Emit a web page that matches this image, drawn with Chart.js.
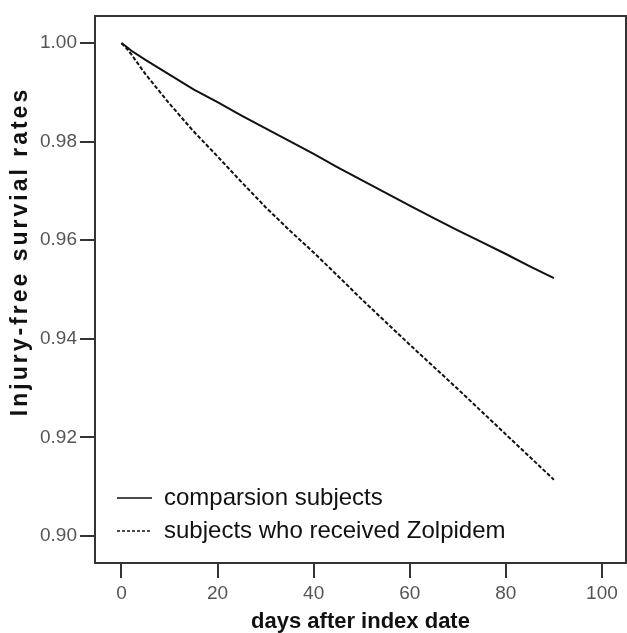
<!DOCTYPE html>
<html>
<head>
<meta charset="utf-8">
<script src="https://cdn.jsdelivr.net/npm/chart.js@4"></script>
<style>
html,body{margin:0;padding:0;background:#fff;}
#wrap{width:627px;height:633px;}
</style>
</head>
<body>
<div id="wrap"><canvas id="c" width="627" height="633"></canvas></div>
<script>
// ---- data ----
const days = [0, 1, 2, 5, 10, 15, 20, 25, 30, 35, 40, 45, 50, 55, 60, 65, 70, 75, 80, 85, 90];
const comparisonRates = [1.000, 0.9993, 0.9985, 0.9966, 0.9936, 0.9906, 0.9880, 0.9853, 0.9827, 0.9801, 0.9775, 0.9748, 0.9722, 0.9696, 0.9670, 0.9645, 0.9620, 0.9596, 0.9572, 0.9547, 0.9523];
const zolpidemRates = [1.000, 0.9990, 0.9978, 0.9937, 0.9877, 0.9821, 0.9770, 0.9718, 0.9667, 0.9620, 0.9575, 0.9528, 0.9480, 0.9434, 0.9388, 0.9343, 0.9298, 0.9252, 0.9206, 0.9160, 0.9114];
const seriesLabels = ['comparsion subjects', 'subjects who received Zolpidem'];
const xTicks = [0, 20, 40, 60, 80, 100];
const yTicks = [0.90, 0.92, 0.94, 0.96, 0.98, 1.00];
const xTitle = 'days after index date';
const yTitle = 'Injury-free survial rates';

const toPoints = (xs, ys) => xs.map((x, i) => ({x: x, y: ys[i]}));

const frame = {
  id: 'frame',
  afterDraw(chart) {
    const a = chart.chartArea, ctx = chart.ctx;
    ctx.save();
    ctx.strokeStyle = '#333';
    ctx.lineWidth = 2;
    ctx.strokeRect(a.left, a.top, a.right - a.left, a.bottom - a.top);
    ctx.restore();
  }
};

const adjust = {
  id: 'adjust',
  afterLayout(chart) {
    const s = chart.scales.y;
    if (!s.__patched) {
      const orig = s.drawTitle;
      s.drawTitle = function () {
        const c = this.ctx;
        c.save();
        c.translate(0, -38);
        c.letterSpacing = '3px';
        orig.apply(this, arguments);
        c.restore();
      };
      s.__patched = true;
    }
    const lg = chart.legend;
    if (lg) {
      const h = lg.height;
      lg.left = 108;
      lg.bottom = 552;
      lg.top = 552 - h;
    }
  }
};

new Chart(document.getElementById('c'), {
  type: 'line',
  data: {
    datasets: [
      {
        label: seriesLabels[0],
        data: toPoints(days, comparisonRates),
        borderColor: '#111',
        backgroundColor: '#111',
        borderWidth: 2,
        pointRadius: 0,
        tension: 0
      },
      {
        label: seriesLabels[1],
        data: toPoints(days, zolpidemRates),
        borderColor: '#111',
        backgroundColor: '#111',
        borderWidth: 2,
        borderDash: [4, 2],
        pointRadius: 0,
        tension: 0
      }
    ]
  },
  options: {
    responsive: false,
    animation: false,
    devicePixelRatio: 1,
    layout: {padding: {top: 16, right: 1, left: 0, bottom: 0}},
    plugins: {
      tooltip: {enabled: false},
      legend: {
        position: 'chartArea',
        align: 'end',
        labels: {
          usePointStyle: true,
          pointStyle: 'line',
          pointStyleWidth: 35,
          boxHeight: 2,
          padding: 9,
          color: '#111',
          font: {family: '"Liberation Sans", Arial, sans-serif', size: 24},
          generateLabels: (chart) => {
            const items = Chart.defaults.plugins.legend.labels.generateLabels(chart);
            items.forEach((it) => {
              const ds = chart.data.datasets[it.datasetIndex];
              it.lineDash = ds.borderDash ? [3, 2] : [];
              it.lineWidth = 1.5;
              it.strokeStyle = '#111';
            });
            return items;
          }
        }
      }
    },
    scales: {
      x: {
        type: 'linear',
        min: -5.5,
        max: 105,
        afterBuildTicks: (s) => { s.ticks = xTicks.map(v => ({value: v})); },
        afterFit: (s) => { s.height = 70; },
        grid: {drawOnChartArea: false, drawTicks: true, tickLength: 15, color: '#333', lineWidth: 2},
        border: {display: true, color: '#333', width: 2},
        ticks: {
          color: '#555',
          padding: 4,
          maxRotation: 0,
          font: {family: '"Liberation Sans", Arial, sans-serif', size: 19}
        },
        title: {
          display: true,
          text: xTitle,
          color: '#111',
          padding: {top: 0, bottom: 0},
          font: {family: '"Liberation Sans", Arial, sans-serif', size: 22, weight: 'bold', lineHeight: 1}
        }
      },
      y: {
        type: 'linear',
        min: 0.8945,
        max: 1.0055,
        afterBuildTicks: (s) => { s.ticks = yTicks.map(v => ({value: v})); },
        afterFit: (s) => { s.width = 95; },
        grid: {drawOnChartArea: false, drawTicks: true, tickLength: 15, color: '#333', lineWidth: 2},
        border: {display: true, color: '#333', width: 2},
        ticks: {
          color: '#555',
          padding: 3,
          callback: (v) => Number(v).toFixed(2),
          font: {family: '"Liberation Sans", Arial, sans-serif', size: 19}
        },
        title: {
          display: true,
          text: yTitle,
          color: '#111',
          padding: {top: 9, bottom: 0},
          font: {family: '"Liberation Sans", Arial, sans-serif', size: 23, weight: 'bold', lineHeight: 1}
        }
      }
    }
  },
  plugins: [frame, adjust]
});
</script>
</body>
</html>
